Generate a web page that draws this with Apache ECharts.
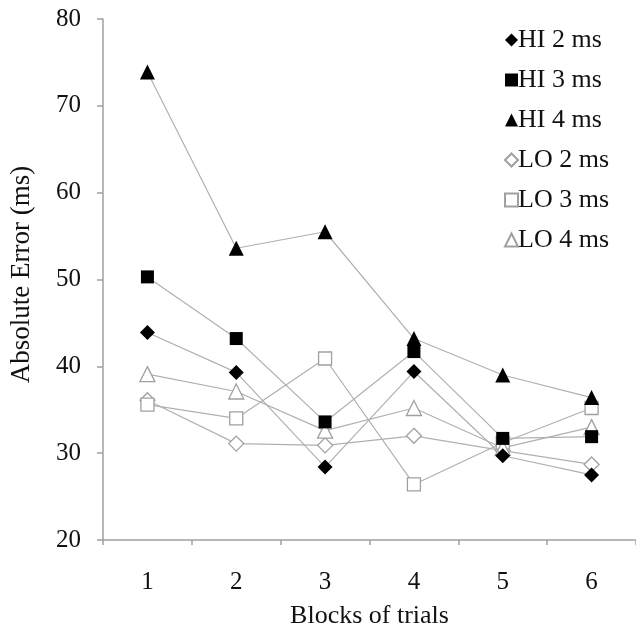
<!DOCTYPE html>
<html>
<head>
<meta charset="utf-8">
<script src="https://cdn.jsdelivr.net/npm/echarts@6/dist/echarts.min.js"></script>
<style>
html,body{margin:0;padding:0;background:#fff;}
#c{width:636px;height:634px;}
</style>
</head>
<body>
<div id="c"></div>
<script>
var categories = ['1', '2', '3', '4', '5', '6'];
var yTicks = [20, 30, 40, 50, 60, 70, 80];
var seriesNames = ['HI 2 ms', 'HI 3 ms', 'HI 4 ms', 'LO 2 ms', 'LO 3 ms', 'LO 4 ms'];
var hi2 = [43.9, 39.3, 28.4, 39.4, 29.7, 27.5];
var hi3 = [50.3, 43.2, 33.6, 41.7, 31.7, 31.9];
var hi4 = [73.9, 53.6, 55.5, 43.2, 39.0, 36.4];
var lo2 = [36.1, 31.1, 30.9, 32.0, 30.3, 28.7];
var lo3 = [35.6, 34.0, 40.9, 26.4, 31.2, 35.2];
var lo4 = [39.1, 37.1, 32.6, 35.2, 30.6, 33.0];

var FONT = 'Liberation Serif';
var lineColor = '#b0b0b0';
var shapes = ['diamond', 'rect', 'triangle', 'diamond', 'rect', 'triangle'];
var sizes = [15, 13, 15, 15, 13, 15];
var filled = [true, true, true, false, false, false];
var allData = [hi2, hi3, hi4, lo2, lo3, lo4];

var series = allData.map(function (d, i) {
  return {
    name: seriesNames[i],
    type: 'line',
    data: d,
    symbol: shapes[i],
    symbolSize: sizes[i],
    showAllSymbol: true,
    lineStyle: { color: lineColor, width: 1.2 },
    itemStyle: filled[i]
      ? { color: '#000', borderColor: '#000', borderWidth: 0 }
      : { color: '#fff', borderColor: '#a0a0a0', borderWidth: 1.3 },
    emphasis: { disabled: true },
    z: filled[i] ? 3 : 2
  };
});

var chart = echarts.init(document.getElementById('c'), null, { renderer: 'canvas' });
chart.setOption({
  animation: false,
  backgroundColor: '#fff',
  grid: { left: 99, top: 19, bottom: 87, width: 540, containLabel: false },
  legend: {
    orient: 'vertical',
    left: 499,
    top: 22,
    itemWidth: 13,
    itemHeight: 13,
    itemGap: 14,
    data: seriesNames.map(function (n, i) { return { name: n, icon: shapes[i] }; }),
    textStyle: { fontFamily: FONT, fontSize: 26, color: '#111', padding: [0, 0, 0, -5] }
  },
  xAxis: {
    type: 'category',
    data: categories,
    boundaryGap: true,
    name: 'Blocks of trials',
    nameLocation: 'middle',
    nameGap: 63,
    nameTextStyle: { fontFamily: FONT, fontSize: 26, color: '#111' },
    axisLine: { lineStyle: { color: '#a0a0a0', width: 1.5 } },
    axisTick: { show: true, length: 5, lineStyle: { color: '#a0a0a0', width: 1.5 } },
    axisLabel: { fontFamily: FONT, fontSize: 25, color: '#111', margin: 30 },
    splitLine: { show: false }
  },
  yAxis: {
    type: 'value',
    min: yTicks[0],
    max: yTicks[yTicks.length - 1],
    interval: 10,
    name: 'Absolute Error (ms)',
    nameLocation: 'middle',
    nameGap: 68,
    nameTextStyle: { fontFamily: FONT, fontSize: 27, color: '#111', padding: [0, 0, 0, 10] },
    axisLine: { show: true, lineStyle: { color: '#a0a0a0', width: 1.5 } },
    axisTick: { show: true, length: 6, lineStyle: { color: '#a0a0a0', width: 1.5 } },
    axisLabel: { fontFamily: FONT, fontSize: 25, color: '#111', margin: 22 },
    splitLine: { show: false }
  },
  series: series
});
</script>
</body>
</html>
